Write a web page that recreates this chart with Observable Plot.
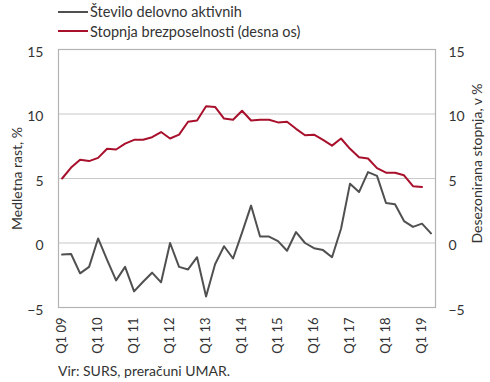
<!DOCTYPE html>
<html>
<head>
<meta charset="utf-8">
<script src="https://cdn.jsdelivr.net/npm/d3@7"></script>
<script src="https://cdn.jsdelivr.net/npm/@observablehq/plot@0.6"></script>
<style>
  html, body { margin: 0; padding: 0; background: #fff; }
  body { width: 490px; height: 382px; overflow: hidden; font-family: Lato, "Liberation Sans", sans-serif; color: #333; }
  #legend { position: relative; height: 42px; }
  .item { position: absolute; left: 58px; display: flex; align-items: center; font-size: 14.5px; height: 20px; }
  .sw { width: 30px; height: 2px; margin-right: 2px; }
  #caption { height: 22px; line-height: 22px; font-size: 14px; padding-left: 58px; }
</style>
</head>
<body>
<div id="legend"></div>
<div id="chart"></div>
<div id="caption">Vir: SURS, preračuni UMAR.</div>
<script>
const seriesNames = ["Število delovno aktivnih", "Stopnja brezposelnosti (desna os)"];
const seriesColors = ["#505050", "#a8102c"];
const tickLabels = ["Q1 09","Q1 10","Q1 11","Q1 12","Q1 13","Q1 14","Q1 15","Q1 16","Q1 17","Q1 18","Q1 19"];
// quarterly values, Q1 2009 onward
const employed = [-0.9,-0.85,-2.35,-1.85,0.35,-1.3,-2.9,-1.85,-3.75,-3.0,-2.3,-3.05,0.0,-1.85,-2.05,-1.1,-4.15,-1.65,-0.25,-1.2,0.8,2.9,0.5,0.5,0.15,-0.6,0.85,0.0,-0.4,-0.55,-1.1,1.1,4.6,3.95,5.5,5.2,3.1,3.0,1.7,1.25,1.5,0.75];
const unemployment = [5.0,5.85,6.45,6.35,6.6,7.3,7.25,7.7,8.0,8.0,8.2,8.6,8.1,8.4,9.4,9.5,10.6,10.55,9.65,9.55,10.25,9.5,9.55,9.55,9.35,9.4,8.85,8.35,8.4,8.0,7.55,8.1,7.3,6.65,6.55,5.8,5.45,5.45,5.25,4.4,4.35];
const yTicks = [-5, 0, 5, 10, 15];
const gridVals = [0, 5, 10];
const leftTitle = "Medletna rast, %";
const rightTitle = "Desezonirana stopnja, v %";

// legend
const legend = document.getElementById("legend");
seriesNames.forEach((n, i) => {
  const d = document.createElement("div");
  d.className = "item";
  d.style.top = (1.5 + i * 19.5) + "px";
  d.innerHTML = `<span class="sw" style="background:${seriesColors[i]}"></span><span>${n}</span>`;
  legend.appendChild(d);
});

const empData = employed.map((v, i) => ({i, v}));
const uneData = unemployment.map((v, i) => ({i, v}));
const tickIdx = tickLabels.map((_, k) => k * 4);

const chart = Plot.plot({
  width: 490,
  height: 318,
  marginTop: 7,
  marginBottom: 53,
  marginLeft: 58,
  marginRight: 55,
  style: {fontFamily: "Lato, 'Liberation Sans', sans-serif", fontSize: "14px", color: "#333", background: "#fff"},
  x: {domain: [-0.4, 41.5], axis: null},
  y: {domain: [-5, 15], axis: null},
  marks: [
    Plot.ruleY(gridVals, {stroke: "#c8c8c8", strokeWidth: 1.2}),
    Plot.frame({stroke: "#b3b3b3", strokeWidth: 1.2}),
    Plot.line(uneData, {x: "i", y: "v", stroke: seriesColors[1], strokeWidth: 2}),
    Plot.line(empData, {x: "i", y: "v", stroke: seriesColors[0], strokeWidth: 2}),
    Plot.axisY(yTicks, {anchor: "left", tickSize: 0, tickPadding: 15, dy: 3, label: null, fontSize: 14}),
    Plot.axisY(yTicks, {anchor: "right", tickSize: 0, tickPadding: 13, dy: 3, label: null, fontSize: 14}),
    Plot.text(tickIdx, {x: d => d, frameAnchor: "bottom", text: d => tickLabels[d / 4], rotate: -90, textAnchor: "end", lineAnchor: "middle", dy: 10, fontSize: 13, fill: "#333"}),
    Plot.text([leftTitle], {frameAnchor: "left", textAnchor: "middle", lineAnchor: "middle", dx: -41, rotate: -90, fontSize: 14, fill: "#333"}),
    Plot.text([rightTitle], {frameAnchor: "right", textAnchor: "middle", lineAnchor: "middle", dx: 42, dy: -15, rotate: -90, fontSize: 14, fill: "#333"})
  ]
});
document.getElementById("chart").appendChild(chart);
</script>
</body>
</html>
